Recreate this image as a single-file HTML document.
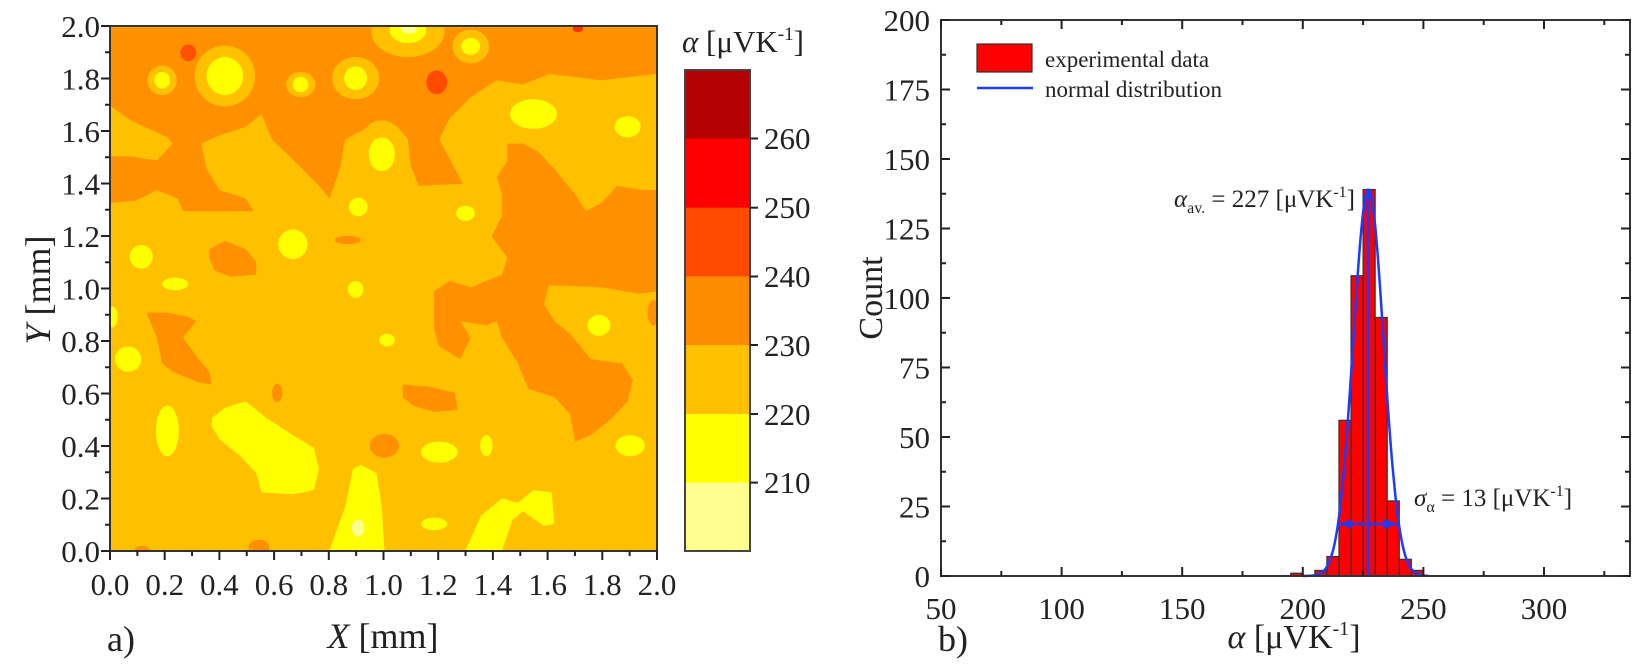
<!DOCTYPE html>
<html><head><meta charset="utf-8"><style>
html,body{margin:0;padding:0;background:#fff;}
svg, svg text{font-family:"Liberation Serif","Times New Roman",serif !important;}
</style></head><body>
<svg id="s" width="1643" height="662" viewBox="0 0 1643 662" xmlns="http://www.w3.org/2000/svg" font-family="Liberation Serif, serif">
<defs><clipPath id="cl"><rect x="110" y="26" width="547" height="525"/></clipPath></defs>
<g clip-path="url(#cl)">
<rect x="110" y="26" width="547" height="525" fill="#ffc000"/>
<g transform="scale(0.523,0.4225)">
<polygon fill="#ff9000" points="210,65 1255,65 1255,175 1150,190 1050,175 1000,200 950,190 900,230 860,280 840,330 870,400 885,435 800,440 785,390 780,330 760,300 720,295 690,310 660,330 650,400 630,470 610,440 570,390 520,330 500,270 470,300 420,320 385,340 395,400 420,450 470,470 485,500 350,500 340,470 300,450 260,475 210,480"/>
<polygon fill="#ffc000" points="210,250 250,285 320,325 330,340 300,380 250,370 210,370"/>
<ellipse cx="780" cy="75" rx="70" ry="60" fill="#ffc000"/>
<ellipse cx="900" cy="110" rx="35" ry="40" fill="#ffc000"/>
<ellipse cx="430" cy="180" rx="58" ry="72" fill="#ffc000"/>
<ellipse cx="680" cy="185" rx="45" ry="50" fill="#ffc000"/>
<ellipse cx="575" cy="200" rx="28" ry="30" fill="#ffc000"/>
<ellipse cx="310" cy="190" rx="28" ry="35" fill="#ffc000"/>
<ellipse cx="730" cy="365" rx="50" ry="80" fill="#ffc000"/>
<polygon fill="#ff9000" points="970,340 1000,340 1030,360 1060,400 1100,460 1120,500 1150,480 1180,440 1230,450 1255,450 1255,690 1220,695 1150,680 1050,675 1040,720 1060,760 1090,790 1130,850 1190,860 1210,900 1200,950 1170,990 1130,1030 1100,1045 1090,980 1060,940 1010,920 990,860 960,800 950,760 930,770 880,760 900,800 880,850 840,820 830,780 830,690 860,665 900,680 960,650 970,610 940,560 960,510 960,460 950,420 970,380"/>
<polygon fill="#ff9000" points="280,740 320,740 360,750 375,760 350,800 380,850 400,880 405,910 380,905 330,880 310,860 300,800"/>
<polygon fill="#ff9000" points="400,590 430,570 470,590 490,620 490,650 440,655 410,640 400,610"/>
<ellipse cx="665" cy="568" rx="25" ry="10" fill="#ff9000"/>
<polygon fill="#ff9000" points="770,910 820,915 870,930 875,970 830,975 790,960 770,940"/>
<ellipse cx="735" cy="1055" rx="28" ry="28" fill="#ff9000"/>
<ellipse cx="530" cy="930" rx="10" ry="22" fill="#ff9000"/>
<ellipse cx="495" cy="1295" rx="20" ry="18" fill="#ff9000"/>
<ellipse cx="272" cy="1302" rx="14" ry="10" fill="#ff9000"/>
<ellipse cx="1250" cy="740" rx="12" ry="30" fill="#ff9000"/>
<g fill="#ffff00">
<polygon points="405,990 430,965 470,950 510,990 560,1030 600,1060 610,1110 600,1160 560,1170 500,1165 490,1120 460,1080 420,1040 405,1010"/>
<ellipse cx="320" cy="1020" rx="22" ry="60"/>
<polygon points="630,1303 660,1200 675,1110 690,1100 720,1120 730,1200 735,1303"/>
<polygon points="890,1303 920,1220 960,1180 990,1190 1020,1160 1055,1165 1060,1240 1040,1245 1000,1210 980,1230 960,1303"/>
<ellipse cx="830" cy="1240" rx="25" ry="15"/>
<ellipse cx="840" cy="1070" rx="35" ry="25"/>
<ellipse cx="930" cy="1055" rx="12" ry="25"/>
<ellipse cx="1205" cy="1055" rx="28" ry="25"/>
<ellipse cx="1145" cy="770" rx="22" ry="25"/>
<ellipse cx="740" cy="805" rx="15" ry="15"/>
<ellipse cx="680" cy="685" rx="15" ry="20"/>
<ellipse cx="560" cy="578" rx="28" ry="35"/>
<ellipse cx="270" cy="608" rx="22" ry="28"/>
<ellipse cx="335" cy="672" rx="25" ry="15"/>
<ellipse cx="245" cy="850" rx="25" ry="30"/>
<ellipse cx="685" cy="490" rx="18" ry="22"/>
<ellipse cx="890" cy="505" rx="18" ry="18"/>
<ellipse cx="730" cy="365" rx="25" ry="40"/>
<ellipse cx="1020" cy="270" rx="45" ry="35"/>
<ellipse cx="1200" cy="300" rx="25" ry="25"/>
<ellipse cx="780" cy="72" rx="35" ry="30"/>
<ellipse cx="900" cy="110" rx="18" ry="20"/>
<ellipse cx="680" cy="185" rx="22" ry="28"/>
<ellipse cx="575" cy="200" rx="15" ry="18"/>
<ellipse cx="430" cy="180" rx="35" ry="45"/>
<ellipse cx="310" cy="190" rx="15" ry="20"/>
<ellipse cx="215" cy="750" rx="10" ry="25"/>
</g>
<ellipse cx="685" cy="1250" rx="12" ry="20" fill="#ffff90"/>
<ellipse cx="782" cy="70" rx="15" ry="10" fill="#ffff90"/>
<ellipse cx="360" cy="125" rx="15" ry="20" fill="#ff5000"/>
<ellipse cx="835" cy="195" rx="20" ry="28" fill="#ff4a00"/>
<ellipse cx="1105" cy="68" rx="10" ry="8" fill="#ff3000"/>
</g>
</g>
<rect x="110" y="26" width="547" height="525" fill="none" stroke="#333" stroke-width="2"/>
<g id="lt" stroke="#222" stroke-width="2"></g>
<g id="ll" font-size="31" fill="#222"></g>
<rect x="685" y="70" width="65" height="69" fill="#b30000"/>
<rect x="685" y="138.5" width="65" height="69.5" fill="#ff0000"/>
<rect x="685" y="207.7" width="65" height="69" fill="#ff4a00"/>
<rect x="685" y="276.5" width="65" height="69" fill="#ff8c00"/>
<rect x="685" y="345" width="65" height="69" fill="#ffc000"/>
<rect x="685" y="414" width="65" height="69" fill="#ffff00"/>
<rect x="685" y="482.6" width="65" height="68.4" fill="#ffff90"/>
<rect x="685" y="70" width="65" height="481" fill="none" stroke="#444" stroke-width="2"/>
<g stroke="#222" stroke-width="2">
<line x1="750" y1="138.5" x2="758" y2="138.5"/><line x1="750" y1="207.7" x2="758" y2="207.7"/><line x1="750" y1="276.5" x2="758" y2="276.5"/><line x1="750" y1="345" x2="758" y2="345"/><line x1="750" y1="414" x2="758" y2="414"/><line x1="750" y1="482.6" x2="758" y2="482.6"/>
</g>
<g font-size="31" fill="#222">
<text x="764" y="149">260</text><text x="764" y="218">250</text><text x="764" y="287">240</text><text x="764" y="356">230</text><text x="764" y="425">220</text><text x="764" y="493">210</text>
<text x="682" y="52"><tspan font-style="italic">α</tspan> [μVK<tspan font-size="19" dy="-12">-1</tspan><tspan dy="12">]</tspan></text>
</g>
<text x="107" y="651" font-size="36" fill="#222">a)</text>
<text x="383" y="648" font-size="36" fill="#222" text-anchor="middle"><tspan font-style="italic">X</tspan> [mm]</text>
<text transform="translate(50,290) rotate(-90)" font-size="36" fill="#222" text-anchor="middle"><tspan font-style="italic">Y</tspan> [mm]</text>

<g id="bars" fill="#ff0000" stroke="#333" stroke-width="1.2"></g>
<path id="gauss" fill="none" stroke="#1a3cff" stroke-width="2.5"/>
<line x1="1368" y1="576" x2="1368" y2="189" stroke="#1a3cff" stroke-width="2.5"/>
<line x1="1338" y1="524" x2="1398" y2="524" stroke="#1a3cff" stroke-width="2.5"/>
<polygon points="1340,524 1352,519 1352,529" fill="#1a3cff"/>
<polygon points="1396,524 1384,519 1384,529" fill="#1a3cff"/>
<rect x="941" y="20" width="689" height="556" fill="none" stroke="#333" stroke-width="2"/>
<g id="rt" stroke="#222" stroke-width="2"></g>
<g id="rl" font-size="31" fill="#222"></g>
<rect x="977" y="44" width="55" height="28" fill="#ff0000" stroke="#333" stroke-width="1.2"/>
<line x1="977" y1="88" x2="1033" y2="88" stroke="#1a3cff" stroke-width="2.5"/>
<text x="1045" y="67" font-size="23" fill="#222">experimental data</text>
<text x="1045" y="97" font-size="23" fill="#222">normal distribution</text>
<text x="1355" y="207" font-size="25" fill="#222" text-anchor="end"><tspan font-style="italic">α</tspan><tspan font-size="16" dy="6">av.</tspan><tspan dy="-6"> = 227 [μVK</tspan><tspan font-size="16" dy="-10">-1</tspan><tspan dy="10">]</tspan></text>
<text x="1414" y="506" font-size="25" fill="#222"><tspan font-style="italic">σ</tspan><tspan font-size="16" dy="6">α</tspan><tspan dy="-6"> = 13 [μVK</tspan><tspan font-size="16" dy="-10">-1</tspan><tspan dy="10">]</tspan></text>
<text x="938" y="651" font-size="36" fill="#222">b)</text>
<text x="1294" y="648" font-size="34" fill="#222" text-anchor="middle"><tspan font-style="italic">α</tspan> [μVK<tspan font-size="20" dy="-13">-1</tspan><tspan dy="13">]</tspan></text>
<text transform="translate(882,298) rotate(-90)" font-size="34" fill="#222" text-anchor="middle">Count</text>
</svg>
<script>
var NS="http://www.w3.org/2000/svg";
function el(p,t,a,txt){var e=document.createElementNS(NS,t);for(var k in a)e.setAttribute(k,a[k]);if(txt!==undefined)e.textContent=txt;document.getElementById(p).appendChild(e);}
for(var i=0;i<=20;i++){var x=110+i*547/20,y=551-i*525/20,L=i%2?5:9;
el("lt","line",{x1:x,y1:551,x2:x,y2:551+L});el("lt","line",{x1:110,y1:y,x2:110-L,y2:y});
if(i%2==0){var s=(i/10).toFixed(1);el("ll","text",{x:x,y:595,"text-anchor":"middle"},s);el("ll","text",{x:100,y:y+11,"text-anchor":"end"},s);}}
var X=function(v){return 941+(v-50)*2.412},Y=function(c){return 576-c*2.78};
for(var v=50;v<=335;v+=25){var x=X(v),L=(v%50==0)?9:5;el("rt","line",{x1:x,y1:576,x2:x,y2:576-L});el("rt","line",{x1:x,y1:20,x2:x,y2:20+L});if(v%50==0)el("rl","text",{x:x,y:619,"text-anchor":"middle"},v);}
for(var c=0;c<=200;c+=12.5){var y=Y(c),L=(c%25==0)?9:5;el("rt","line",{x1:941,y1:y,x2:941+L,y2:y});el("rt","line",{x1:1630,y1:y,x2:1630-L,y2:y});if(c%25==0)el("rl","text",{x:930,y:y+11,"text-anchor":"end"},c);}
var bars=[[195,1],[205,2],[210,7],[215,56],[220,108],[225,139],[230,93],[235,27],[240,6],[245,2]];
bars.forEach(function(b){el("bars","rect",{x:X(b[0]),y:Y(b[1]),width:X(b[0]+5)-X(b[0]),height:b[1]*2.78});});
var d="";for(var v=200;v<=252;v+=0.5){var c=139*Math.exp(-Math.pow(v-227.2,2)/(2*6.3*6.3));d+=(d?"L":"M")+X(v).toFixed(1)+","+Y(c).toFixed(1);}
document.getElementById("gauss").setAttribute("d",d);
</script>
</body></html>
